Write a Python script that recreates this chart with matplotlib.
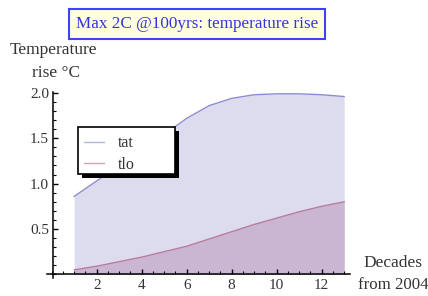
import numpy as np
import matplotlib
matplotlib.use("Agg")
from matplotlib import pyplot as plt
from matplotlib.lines import Line2D
from matplotlib.patches import Rectangle
from matplotlib.ticker import MultipleLocator, FixedLocator

# decades from 2004
decades = [1, 2, 3, 4, 5, 6, 7, 8, 9, 10, 11, 12, 13]
tat = [0.86, 1.03, 1.20, 1.37, 1.54, 1.72, 1.86, 1.94, 1.98, 1.99, 1.99, 1.98, 1.96]
tlo = [0.05, 0.09, 0.14, 0.19, 0.25, 0.31, 0.39, 0.47, 0.55, 0.62, 0.69, 0.75, 0.80]
series_names = ['tat', 'tlo']
xticks = [2, 4, 6, 8, 10, 12]
yticks = [0.5, 1.0, 1.5, 2.0]

serif = ['Liberation Serif', 'DejaVu Serif']
txt_col = '#333333'
W, H = 428, 296

fig = plt.figure(figsize=(4.28, 2.96), dpi=100)
ax = fig.add_axes([47 / W, 18 / H, 303 / W, 186 / H])

ax.fill_between(decades, 0, tat, color='#dcdcee', lw=0)
ax.fill_between(decades, 0, tlo, color='#cab6d2', lw=0)
ax.plot(decades, tat, color='#8c8cd2', lw=1)
ax.plot(decades, tlo, color='#b87a9e', lw=1)

ax.set_xlim(-0.21, 13.26)
ax.set_ylim(-0.04, 2.01)

ax.spines['top'].set_visible(False)
ax.spines['right'].set_visible(False)
ax.spines['left'].set_position(('data', 0.06))
ax.spines['bottom'].set_position(('data', 0))
for s in ['left', 'bottom']:
    ax.spines[s].set_linewidth(1.1)
    ax.spines[s].set_color('black')

ax.xaxis.set_major_locator(FixedLocator(xticks))
ax.xaxis.set_minor_locator(MultipleLocator(0.5))
ax.yaxis.set_major_locator(FixedLocator(yticks))
ax.yaxis.set_minor_locator(MultipleLocator(0.1))
ax.set_yticklabels(['%.1f' % v for v in yticks])
ax.tick_params(which='major', direction='in', length=3.4, width=1, color='black',
               labelsize=11, labelcolor=txt_col)
ax.tick_params(which='minor', direction='in', length=2.2, width=0.8, color='black')
ax.tick_params(axis='x', pad=3)
ax.tick_params(axis='y', pad=3)
for lab in ax.get_xticklabels() + ax.get_yticklabels():
    lab.set_family(serif)

# axis labels
fig.text(10 / W, 1 - 50 / H, 'Temperature', family=serif, fontsize=12.5,
         color=txt_col, va='center', ha='left')
fig.text(32 / W, 1 - 73 / H, 'rise \u00b0C', family=serif, fontsize=12.5,
         color=txt_col, va='center', ha='left')
fig.text(393 / W, 1 - 263 / H, 'Decades', family=serif, fontsize=12.5,
         color=txt_col, va='center', ha='center')
fig.text(393 / W, 1 - 285 / H, 'from 2004', family=serif, fontsize=12.2,
         color=txt_col, va='center', ha='center')

# title box
fig.text(197 / W, 1 - 24 / H, 'Max 2C @100yrs: temperature rise', family=serif,
         fontsize=12.3, color='#3333e6', ha='center', va='center',
         bbox=dict(boxstyle='square,pad=0.4', facecolor='#ffffe0',
                   edgecolor='#4040ff', lw=1.5))

# legend frame with hard black shadow (drawn by hand, Mathematica style)
bx0, by0, bx1, by1 = 78, 127, 175, 174
fig.add_artist(Rectangle(((bx0 + 4) / W, 1 - (by1 + 4) / H), (bx1 - bx0) / W,
                         (by1 - by0) / H, transform=fig.transFigure,
                         facecolor='black', edgecolor='black', lw=0, zorder=5))
fig.add_artist(Rectangle((bx0 / W, 1 - by1 / H), (bx1 - bx0) / W, (by1 - by0) / H,
                         transform=fig.transFigure, facecolor='white',
                         edgecolor='black', lw=1.2, zorder=6))

handles = [Line2D([], [], color='#b4b4dc', lw=1),
           Line2D([], [], color='#d4a4bc', lw=1)]
leg = fig.legend(handles, series_names, loc='upper left', borderaxespad=0,
                 bbox_to_anchor=(bx0 / W, 1 - (by0 + 2) / H), bbox_transform=fig.transFigure,
                 frameon=False, handlelength=1.25, borderpad=0.4,
                 labelspacing=0.35, handletextpad=0.85,
                 prop={'family': serif, 'size': 11.5})
leg.set_zorder(7)
for t in leg.get_texts():
    t.set_color(txt_col)

fig.savefig('out.png', dpi=100)
